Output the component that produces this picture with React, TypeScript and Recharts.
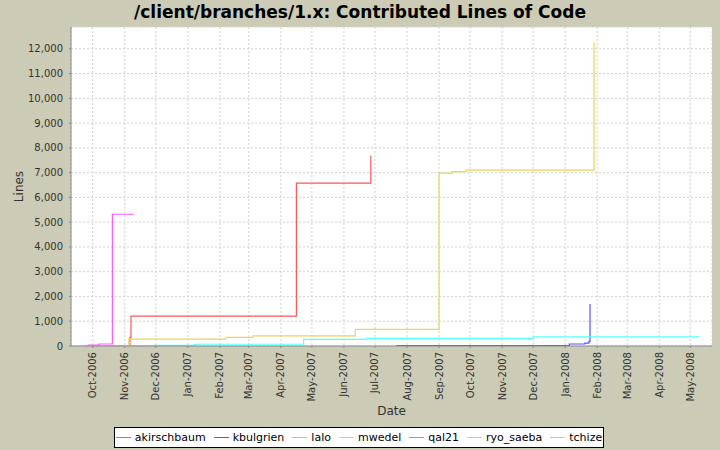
import React from 'react';
import { LineChart, Line, XAxis, YAxis, CartesianGrid, Label } from 'recharts';

const BG = '#CBCBB6';
const GRID = '#D0D0D0';
const AXIS = '#888888';
const TEXT = '#333333';
const FONT = '"DejaVu Sans", sans-serif';

const seriesNames = ['akirschbaum', 'kbulgrien', 'lalo', 'mwedel', 'qal21', 'ryo_saeba', 'tchize'];
const seriesColors = ['#FF5555', '#5555FF', '#55FF55', '#E6D65A', '#FF55FF', '#55FFFF', '#FFAFAF'];

// dates of each commit step, and the cumulative line count after it
const akirschbaumDates = ['2006-11-05', '2006-11-06', '2006-11-07', '2007-04-16', '2007-06-27'];
const akirschbaumLines = [10, 350, 1210, 6575, 7680];

const kbulgrienDates = ['2007-07-22', '2008-01-05', '2008-01-20', '2008-01-24', '2008-01-25'];
const kbulgrienLines = [20, 80, 120, 190, 1700];

const laloDates = ['2006-09-24', '2006-10-30'];
const laloLines = [5, 10];

const mwedelDates = [
  '2006-09-21', '2006-11-05', '2007-02-07', '2007-03-05', '2007-06-12',
  '2007-09-01', '2007-09-14', '2007-09-27', '2008-01-29',
];
const mwedelLines = [5, 280, 350, 410, 675, 6980, 7040, 7100, 12260];

const qal21Dates = ['2006-09-26', '2006-10-07', '2006-10-20', '2006-11-10'];
const qal21Lines = [40, 80, 5320, 5320];

const ryoSaebaDates = [
  '2006-11-03', '2006-11-29', '2007-01-07', '2007-04-23', '2007-06-23', '2007-12-01', '2008-05-10',
];
const ryoSaebaLines = [5, 30, 70, 270, 310, 365, 365];

const tchizeDates = ['2006-10-15', '2006-11-01'];
const tchizeLines = [3, 6];

const seriesDates = [akirschbaumDates, kbulgrienDates, laloDates, mwedelDates, qal21Dates, ryoSaebaDates, tchizeDates];
const seriesLines = [akirschbaumLines, kbulgrienLines, laloLines, mwedelLines, qal21Lines, ryoSaebaLines, tchizeLines];

const monthTicks = [
  '2006-10-01', '2006-11-01', '2006-12-01', '2007-01-01', '2007-02-01', '2007-03-01', '2007-04-01',
  '2007-05-01', '2007-06-01', '2007-07-01', '2007-08-01', '2007-09-01', '2007-10-01', '2007-11-01',
  '2007-12-01', '2008-01-01', '2008-02-01', '2008-03-01', '2008-04-01', '2008-05-01',
];
const yTicks = [0, 1000, 2000, 3000, 4000, 5000, 6000, 7000, 8000, 9000, 10000, 11000, 12000];
const dateRange = ['2006-09-10', '2008-05-22'];
const yMax = 12880;

const MONTHS = ['Jan', 'Feb', 'Mar', 'Apr', 'May', 'Jun', 'Jul', 'Aug', 'Sep', 'Oct', 'Nov', 'Dec'];
const ts = (d: string) => Date.parse(d + 'T00:00:00Z');
const fmtMonth = (t: number) => {
  const d = new Date(t);
  return `${MONTHS[d.getUTCMonth()]}-${d.getUTCFullYear()}`;
};

const series = seriesNames.map((name, i) => ({
  name,
  color: seriesColors[i],
  data: seriesDates[i].map((d, j) => ({ t: ts(d), v: seriesLines[i][j] })),
}));

function DateTick(props: any) {
  const { x, y, payload } = props;
  return (
    <text
      x={x}
      y={y}
      transform={`rotate(-90, ${x}, ${y})`}
      textAnchor="end"
      dy="0.35em"
      fontSize={10}
      fontFamily={FONT}
      fill={TEXT}
    >
      {fmtMonth(payload.value)}
    </text>
  );
}

export default function App() {
  return (
    <div style={{ position: 'relative', width: 720, height: 450, background: BG, fontFamily: FONT }}>
      <style>{`body { margin: 0; }`}</style>
      <div
        style={{
          position: 'absolute',
          top: 2,
          left: 0,
          width: 720,
          textAlign: 'center',
          fontSize: 17,
          fontWeight: 'bold',
          color: '#000',
        }}
      >
        /client/branches/1.x: Contributed Lines of Code
      </div>
      <LineChart width={720} height={450} margin={{ top: 27, right: 8, left: 0, bottom: 0 }}>
        <CartesianGrid fill="#FFFFFF" stroke={GRID} strokeDasharray="2 2" />
        <XAxis
          dataKey="t"
          type="number"
          domain={[ts(dateRange[0]), ts(dateRange[1])]}
          ticks={monthTicks.map(ts)}
          allowDataOverflow
          height={104}
          stroke={AXIS}
          tickSize={2}
          tickMargin={4}
          tick={<DateTick />}
          interval={0}
        >
          <Label
            value="Date"
            position="insideTop"
            offset={60}
            style={{ fontSize: 12, fontFamily: FONT, fill: TEXT }}
          />
        </XAxis>
        <XAxis xAxisId="top" orientation="top" type="number" height={0} tick={false} tickLine={false} stroke={AXIS} />
        <YAxis
          type="number"
          domain={[0, yMax]}
          ticks={yTicks}
          allowDataOverflow
          width={71}
          stroke={AXIS}
          tickSize={2}
          tickMargin={6}
          interval={0}
          tick={{ fontSize: 10, fontFamily: FONT, fill: TEXT }}
          tickFormatter={(v: number) => v.toLocaleString('en-US')}
        >
          <Label
            value="Lines"
            angle={-90}
            position="insideLeft"
            offset={19}
            style={{ fontSize: 12, fontFamily: FONT, fill: TEXT, textAnchor: 'middle' }}
          />
        </YAxis>
        <YAxis yAxisId="right" orientation="right" width={0} tick={false} tickLine={false} stroke={AXIS} />
        {series.map((s) => (
          <Line
            key={s.name}
            data={s.data}
            dataKey="v"
            name={s.name}
            type="stepAfter"
            stroke={s.color}
            strokeWidth={1.2}
            dot={false}
            activeDot={false}
            isAnimationActive={false}
          />
        ))}
      </LineChart>
      <div
        style={{
          position: 'absolute',
          left: 114,
          top: 427,
          width: 488,
          height: 19,
          background: '#FFFFFF',
          border: '1px solid #000',
          display: 'flex',
          alignItems: 'center',
          justifyContent: 'center',
          gap: 8,
          fontSize: 11,
          color: '#000',
        }}
      >
        {series.map((s) => (
          <div key={s.name} style={{ display: 'flex', alignItems: 'center', gap: 4 }}>
            <span style={{ display: 'inline-block', width: 15, height: 1, background: s.color }} />
            <span>{s.name}</span>
          </div>
        ))}
      </div>
    </div>
  );
}
